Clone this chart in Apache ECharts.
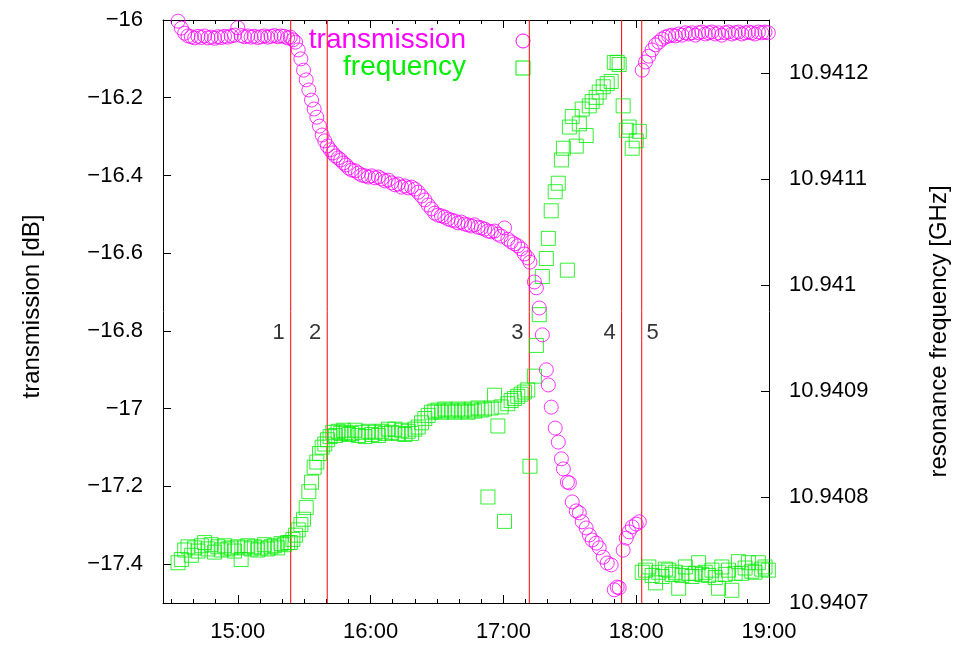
<!DOCTYPE html>
<html>
<head>
<meta charset="utf-8">
<script src="https://cdn.jsdelivr.net/npm/echarts@6/dist/echarts.min.js"></script>
<style>html,body{margin:0;padding:0;background:#fff}#c{width:968px;height:646px}</style>
</head>
<body>
<div id="c"></div>
<script>
// time in minutes after 14:00
const times = [
  33, 34.5, 36, 37.5, 39, 40.5, 42, 43.5, 45, 46.5, 48, 49.5, 51, 52.5, 54, 55.5, 57, 58.5, 60, 61.5,
  63, 64.5, 66, 67.5, 69, 70.5, 72, 73.5, 75, 76.5, 78, 79.5, 81, 82.5,
  83.7, 84.9, 86.1, 87.3, 88.5, 89.7, 90.9, 92.1, 93.3, 94.5, 95.7, 96.9, 98.1, 99.3, 100.5, 101.7,
  102.9, 104.1, 105.3, 106.5, 107.7, 108.9, 110.1,
  111.5, 113, 114.5, 116, 117.5, 119, 120.5, 122, 123.5, 125, 126.5, 128, 129.5, 131, 132.5, 134,
  135.5, 137, 138.5, 140, 141.5, 143, 144.5, 146, 147.5, 149, 150.5, 152, 153.5, 155, 156.5, 158,
  159.5, 161, 162.5, 164, 165.5, 167, 168.5, 170, 171.5, 173, 174.5, 176, 177.5, 179, 180.5, 182,
  183.5, 185, 186.5, 188, 189.5, 191, 192,
  194.0, 194.9, 196.2, 197.6, 199.4, 200.3, 201.6, 203.4, 204.8, 206.2, 207.1, 208.9, 209.8, 211.1,
  212.9, 214.3, 215.6, 217.4, 218.8, 220.1, 221.9, 223.3, 225.1, 226.9, 228.7, 230.1, 231.4, 232.3,
  234.1, 235.5, 236.8, 238.2, 240.0, 241.4,
  242.7, 244.2, 245.7, 247.2, 248.7, 250.2, 251.7, 253.2, 254.7, 256.2, 257.7, 259.2, 260.7, 262.2,
  263.7, 265.2, 266.7, 268.2, 269.7, 271.2, 272.7, 274.2, 275.7, 277.2, 278.7, 280.2, 281.7, 283.2,
  284.7, 286.2, 287.7, 289.2, 290.7, 292.2, 293.7, 295.2, 296.7, 298.2, 299.7
];
// transmission [dB]
const transmission = [
  -16.003, -16.021, -16.034, -16.041, -16.043, -16.046, -16.042, -16.045, -16.041, -16.046, -16.044,
  -16.047, -16.043, -16.045, -16.042, -16.044, -16.041, -16.039, -16.020, -16.040, -16.043, -16.041,
  -16.044, -16.042, -16.045, -16.043, -16.041, -16.044, -16.042, -16.040, -16.043, -16.041, -16.042, -16.046,
  -16.044, -16.051, -16.057, -16.077, -16.100, -16.129, -16.154, -16.180, -16.206, -16.229, -16.250,
  -16.273, -16.296, -16.311, -16.324, -16.334, -16.342, -16.350, -16.355, -16.360, -16.368, -16.373, -16.381,
  -16.386, -16.388, -16.394, -16.399, -16.401, -16.404, -16.401, -16.406, -16.404, -16.409, -16.414,
  -16.412, -16.419, -16.424, -16.422, -16.430, -16.427, -16.432, -16.430, -16.435, -16.443, -16.453,
  -16.463, -16.476, -16.486, -16.497, -16.502, -16.504, -16.507, -16.512, -16.515, -16.517, -16.522,
  -16.520, -16.525, -16.527, -16.530, -16.527, -16.533, -16.535, -16.538, -16.543, -16.545, -16.543,
  -16.551, -16.556, -16.535, -16.564, -16.571, -16.576, -16.581, -16.589, -16.602, -16.612, -16.623,
  -16.674, -16.689, -16.741, -16.810, -16.900, -16.939, -16.996, -17.050, -17.086, -17.129, -17.155,
  -17.189, -17.191, -17.240, -17.263, -17.268, -17.291, -17.307, -17.325, -17.338, -17.346, -17.358,
  -17.382, -17.397, -17.402, -17.466, -17.459, -17.461,
  -17.364, -17.333, -17.317, -17.304, -17.297, -17.291,
  -16.129, -16.108, -16.093, -16.077, -16.064, -16.057, -16.049, -16.044, -16.041, -16.039, -16.041,
  -16.036, -16.039, -16.033, -16.036, -16.033, -16.039, -16.033, -16.031, -16.036, -16.033, -16.031,
  -16.036, -16.033, -16.039, -16.033, -16.031, -16.036, -16.033, -16.031, -16.036, -16.033, -16.031,
  -16.033, -16.036, -16.031, -16.033, -16.031, -16.033
];
// resonance frequency [GHz]
const frequency = [
  10.940738, 10.940741, 10.940750, 10.940753, 10.940745, 10.940752, 10.940749, 10.940754, 10.940757,
  10.940751, 10.940755, 10.940748, 10.940753, 10.940750, 10.940754, 10.940751, 10.940752, 10.940749,
  10.940753, 10.940741, 10.940752, 10.940754, 10.940751, 10.940753, 10.940750, 10.940752, 10.940755,
  10.940751, 10.940753, 10.940754, 10.940752, 10.940756, 10.940755, 10.940757,
  10.940757, 10.940760, 10.940764, 10.940769, 10.940774, 10.940779, 10.940790, 10.940805, 10.940814,
  10.940828, 10.940833, 10.940841, 10.940847, 10.940850, 10.940854, 10.940857, 10.940861, 10.940858,
  10.940862, 10.940860, 10.940863, 10.940861, 10.940859,
  10.940860, 10.940863, 10.940858, 10.940861, 10.940857, 10.940862, 10.940859, 10.940861, 10.940858,
  10.940862, 10.940860, 10.940864, 10.940861, 10.940864, 10.940860, 10.940863, 10.940859, 10.940862,
  10.940860, 10.940864, 10.940866, 10.940870, 10.940874, 10.940877, 10.940880, 10.940881, 10.940882,
  10.940880, 10.940883, 10.940881, 10.940882, 10.940880, 10.940883, 10.940881, 10.940882, 10.940880,
  10.940883, 10.940881, 10.940884, 10.940882, 10.940883, 10.940800, 10.940884, 10.940896, 10.940867,
  10.940885, 10.940777, 10.940888, 10.940891, 10.940893, 10.940895, 10.940897, 10.940899, 10.940901,
  10.940829,
  10.940914, 10.940943, 10.940972, 10.941008, 10.941025, 10.941044, 10.941070, 10.941088, 10.941096,
  10.941118, 10.941129, 10.941014, 10.941149, 10.941159, 10.941131, 10.941152, 10.941166, 10.941141,
  10.941169, 10.941173, 10.941177, 10.941182, 10.941187, 10.941190, 10.941192, 10.941210, 10.941210,
  10.941208,
  10.941169, 10.941146, 10.941149, 10.941129, 10.941136, 10.941145,
  10.940729, 10.940731, 10.940734, 10.940726, 10.940719, 10.940729, 10.940725, 10.940732, 10.940731,
  10.940727, 10.940729, 10.940714, 10.940726, 10.940734, 10.940728, 10.940725, 10.940728, 10.940738,
  10.940727, 10.940729, 10.940726, 10.940731, 10.940724, 10.940714, 10.940734, 10.940727, 10.940731,
  10.940712, 10.940728, 10.940739, 10.940728, 10.940733, 10.940738, 10.940730, 10.940729, 10.940738,
  10.940732, 10.940734, 10.940731
];
// vertical marker lines (minutes after 14:00) and their labels
const markerTimes = [83.9, 100.4, 191.7, 233.4, 242.5];
const markerNames = ['1', '2', '3', '4', '5'];
// tick values
const xMajorTicks = [60, 120, 180, 240, 300];
const xMinorTicks = [30, 40, 50, 60, 70, 80, 90, 100, 110, 120, 130, 140, 150, 160, 170, 180, 190, 200,
  210, 220, 230, 240, 250, 260, 270, 280, 290, 300];
const leftTicks = [-17.4, -17.2, -17, -16.8, -16.6, -16.4, -16.2, -16];
const rightTicks = [10.9407, 10.9408, 10.9409, 10.941, 10.9411, 10.9412];
const seriesNames = ['transmission', 'frequency'];

const FONT = 'Liberation Sans, Arial, Helvetica, sans-serif';
const MAG = '#ff00ff';
const GRN = '#00ee00';
const RED = '#ff0000';
const Y_MIN = -17.5, Y_MAX = -16;

const chart = echarts.init(document.getElementById('c'), null, {renderer: 'canvas'});

function fmtTime(m) {
  const h = 14 + Math.floor(m / 60);
  const mm = Math.round(m % 60);
  return h + ':' + (mm < 10 ? '0' : '') + mm;
}
const xBase = {type: 'value', min: 26.2, max: 300, gridIndex: 0, splitLine: {show: false}};
const axisLineStyle = {show: true, lineStyle: {color: '#000', width: 1}};

const markerLineSeries = markerTimes.map((t, i) => ({
  name: 'marker' + markerNames[i], type: 'line', xAxisIndex: 0, yAxisIndex: 0, silent: true,
  symbol: 'none', z: 1, lineStyle: {color: RED, width: 1, type: 'solid'},
  data: [[t, Y_MIN], [t, Y_MAX]]
}));

const option = {
  animation: false,
  backgroundColor: '#fff',
  grid: {left: 163, right: 199, top: 20, bottom: 43, containLabel: false},
  xAxis: [
    Object.assign({}, xBase, {position: 'bottom', axisLine: axisLineStyle,
      axisTick: {show: true, inside: true, length: 8, customValues: xMajorTicks, lineStyle: {color: '#000'}},
      axisLabel: {show: true, customValues: xMajorTicks, formatter: fmtTime, fontSize: 22, fontFamily: FONT, color: '#000', margin: 18}}),
    Object.assign({}, xBase, {position: 'bottom', axisLine: {show: false},
      axisTick: {show: true, inside: true, length: 4, customValues: xMinorTicks, lineStyle: {color: '#000'}},
      axisLabel: {show: false}}),
    Object.assign({}, xBase, {position: 'top', axisLine: axisLineStyle,
      axisTick: {show: true, inside: true, length: 8, customValues: xMajorTicks, lineStyle: {color: '#000'}},
      axisLabel: {show: false}}),
    Object.assign({}, xBase, {position: 'top', axisLine: {show: false},
      axisTick: {show: true, inside: true, length: 4, customValues: xMinorTicks, lineStyle: {color: '#000'}},
      axisLabel: {show: false}})
  ],
  yAxis: [
    {type: 'value', position: 'left', min: Y_MIN, max: Y_MAX, splitLine: {show: false},
      axisLine: axisLineStyle,
      axisTick: {show: true, inside: true, length: 8, customValues: leftTicks, lineStyle: {color: '#000'}},
      axisLabel: {customValues: leftTicks, fontSize: 22, fontFamily: FONT, color: '#000', margin: 20,
        formatter: v => String(+v.toFixed(1)).replace('-', '\u2212')},
      name: 'transmission [dB]', nameLocation: 'middle', nameRotate: 90, nameGap: 119,
      nameTextStyle: {fontSize: 24, fontFamily: FONT, color: '#000', padding: [0, 0, 0, 10]}},
    {type: 'value', position: 'right', min: 10.9407, max: 10.94125, splitLine: {show: false},
      axisLine: axisLineStyle,
      axisTick: {show: true, inside: true, length: 8, customValues: rightTicks, lineStyle: {color: '#000'}},
      axisLabel: {customValues: rightTicks, fontSize: 22, fontFamily: FONT, color: '#000', margin: 20,
        formatter: v => String(+v.toFixed(4))},
      name: 'resonance frequency [GHz]', nameLocation: 'middle', nameRotate: 90, nameGap: 158,
      nameTextStyle: {fontSize: 24, fontFamily: FONT, color: '#000', padding: [0, 40, 0, 0]}}
  ],
  graphic: [
    {type: 'text', right: 502, top: 26, style: {text: seriesNames[0], fill: MAG, font: '28px ' + FONT}},
    {type: 'text', right: 502, top: 53, style: {text: seriesNames[1], fill: GRN, font: '28px ' + FONT}},
    {type: 'circle', shape: {cx: 523, cy: 41, r: 7}, style: {fill: 'none', stroke: MAG, lineWidth: 1}},
    {type: 'rect', shape: {x: 516, y: 61, width: 14, height: 14}, style: {fill: 'none', stroke: GRN, lineWidth: 1}}
  ],
  series: markerLineSeries.concat([
    {name: seriesNames[1], type: 'scatter', xAxisIndex: 0, yAxisIndex: 1, symbol: 'rect', symbolSize: 14,
      itemStyle: {color: 'transparent', borderColor: GRN, borderWidth: 1}, z: 2,
      data: times.map((t, i) => [t, frequency[i]])},
    {name: seriesNames[0], type: 'scatter', xAxisIndex: 0, yAxisIndex: 0, symbol: 'circle', symbolSize: 14,
      itemStyle: {color: 'transparent', borderColor: MAG, borderWidth: 1}, z: 3,
      data: times.map((t, i) => [t, transmission[i]])},
    {name: 'markers', type: 'scatter', xAxisIndex: 0, yAxisIndex: 0, symbolSize: 0, silent: true,
      data: markerTimes.map((t, i) => ({value: [t, -16.805],
        label: {offset: [i === 4 ? 11 : -12, 0]}})),
      label: {show: true, position: 'inside', fontSize: 22, fontFamily: FONT, color: '#000',
        textBorderWidth: 0, formatter: p => markerNames[p.dataIndex]}}
  ])
};
chart.setOption(option);
</script>
</body>
</html>
